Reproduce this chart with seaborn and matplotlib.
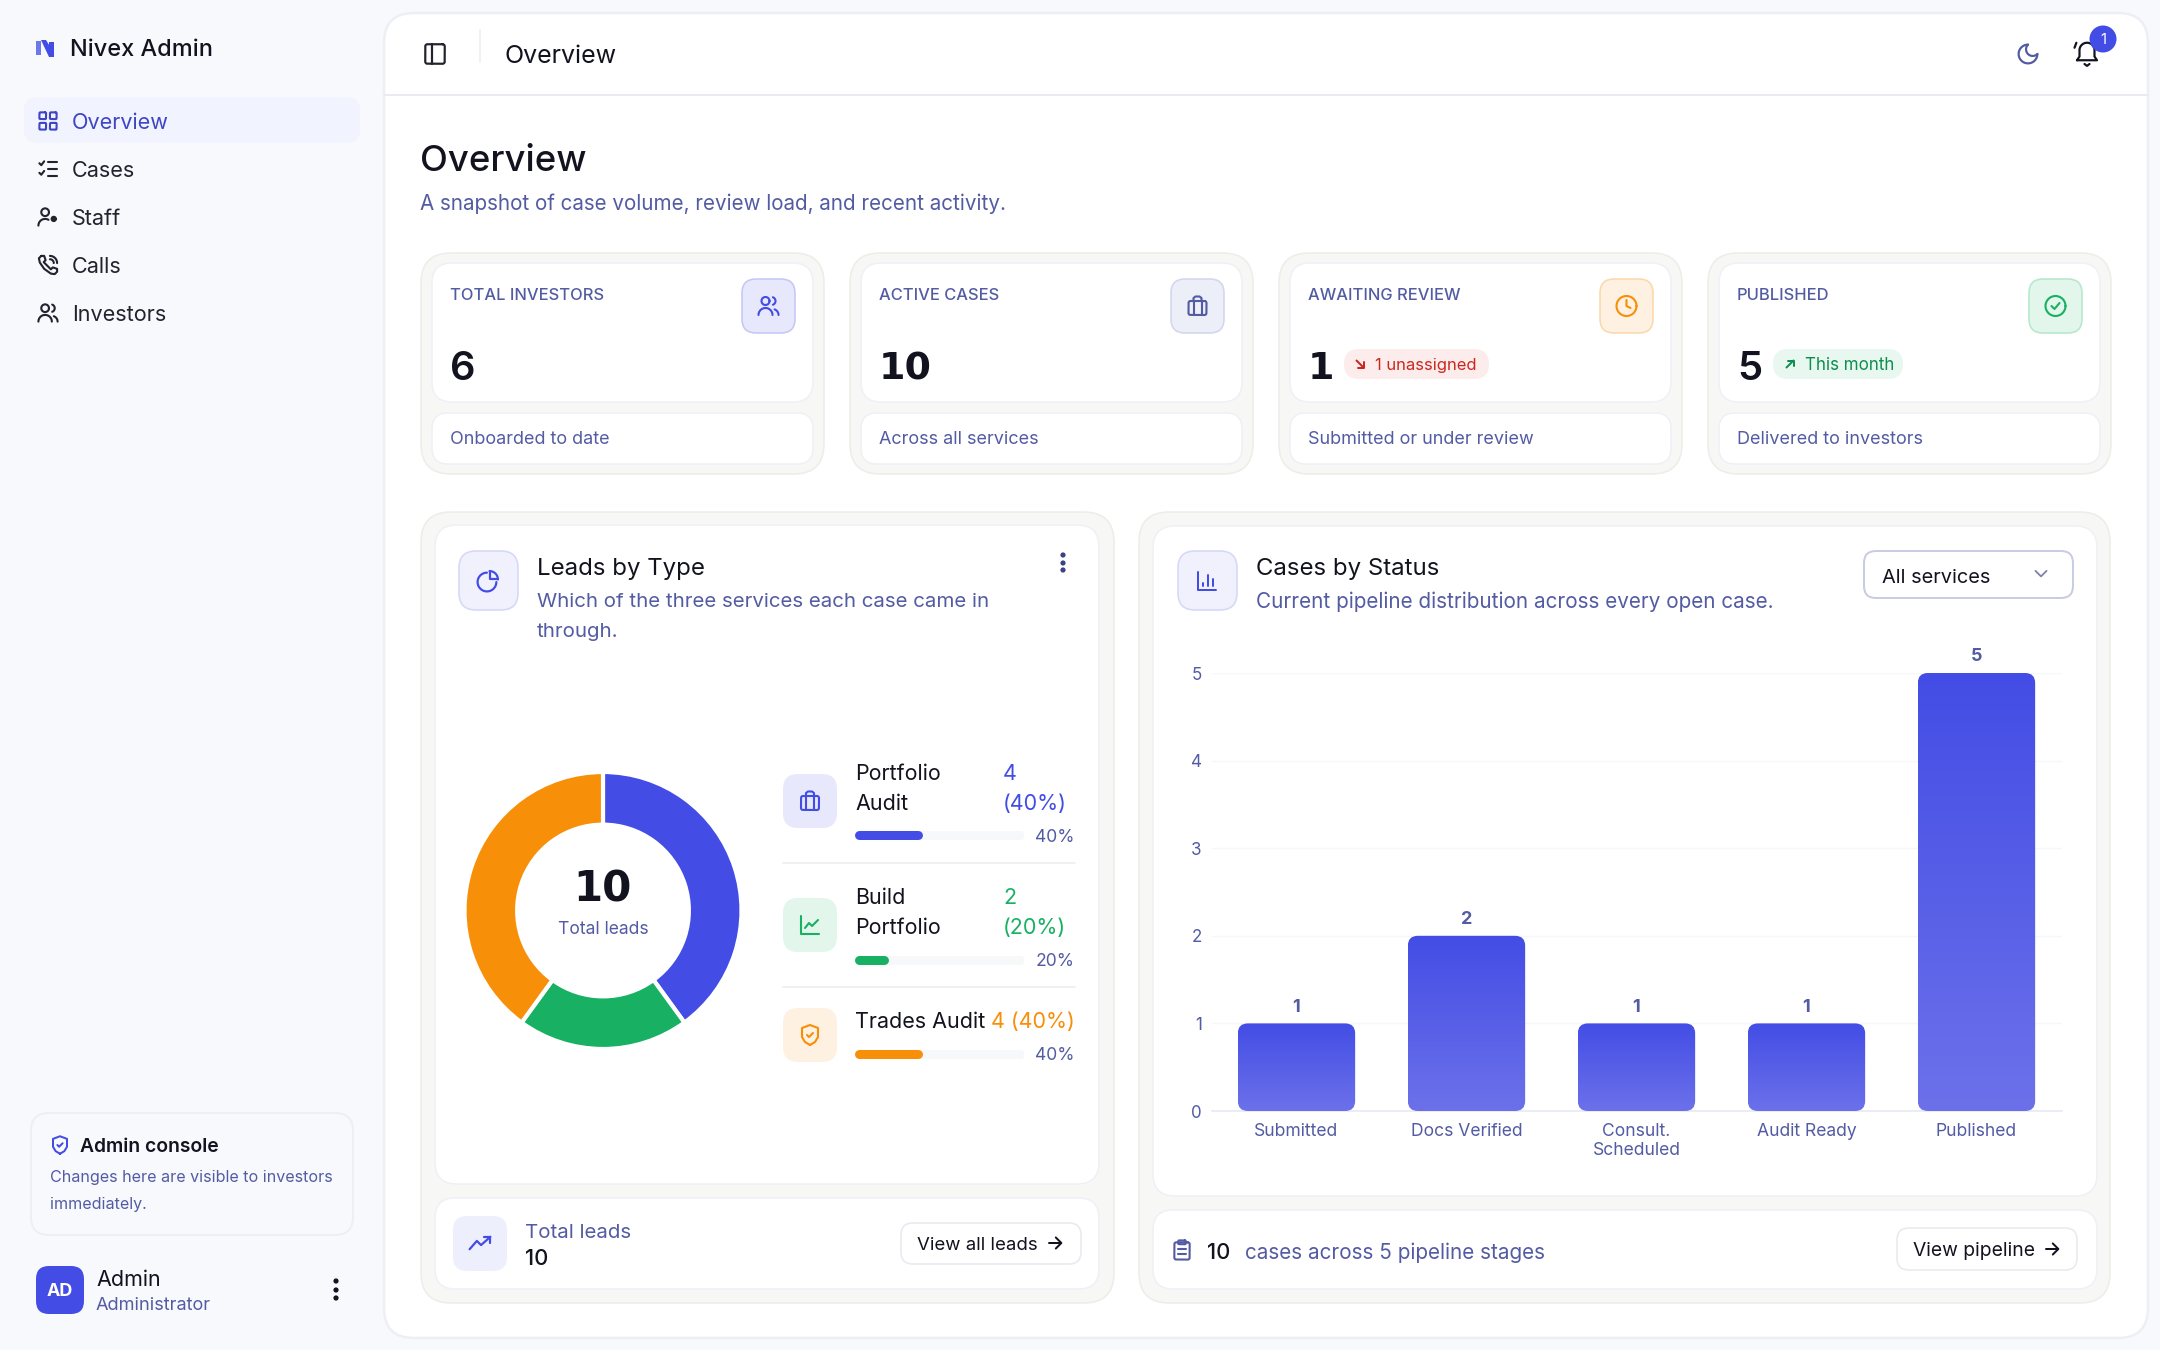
import numpy as np
import pandas as pd
import seaborn as sns
import matplotlib
matplotlib.use("Agg")
import matplotlib.pyplot as plt
from matplotlib.patches import FancyBboxPatch, Circle, Polygon

# Data
nav_items = ["Overview", "Cases", "Staff", "Calls", "Investors"]
nav_icons = ["grid", "checks", "staff", "phone", "users"]
kpi_labels = ["TOTAL INVESTORS", "ACTIVE CASES", "AWAITING REVIEW", "PUBLISHED"]
kpi_values = [6, 10, 1, 5]
kpi_notes = ["Onboarded to date", "Across all services", "Submitted or under review", "Delivered to investors"]
lead_types = ["Portfolio\nAudit", "Build\nPortfolio", "Trades Audit"]
lead_counts = [4, 2, 4]
lead_pcts = [40, 20, 40]
status_names = ["Submitted", "Docs Verified", "Consult.\nScheduled", "Audit Ready", "Published"]
status_counts = [1, 2, 1, 1, 5]

W, H = 2160, 1350
BLUE, GREEN, ORANGE = "#434DE5", "#18B163", "#F78F08"
INK, MUTED = "#12131F", "#535BA3"
FONT = "Inter"
NUMFONT = "DejaVu Sans"

sns.set_theme(style="white")
plt.rcParams["font.family"] = [FONT, "DejaVu Sans"]

fig = plt.figure(figsize=(W / 100, H / 100), dpi=100, facecolor="#F8F9FD")
cv = fig.add_axes([0, 0, 1, 1], zorder=0)
cv.set_xlim(0, W)
cv.set_ylim(H, 0)
cv.axis("off")
cv.autoscale(False)


def box(x0, y0, x1, y1, r, fc="white", ec="none", lw=1.5, z=1):
    p = FancyBboxPatch((x0, y0), x1 - x0, y1 - y0, boxstyle=f"round,pad=0,rounding_size={r}",
                       fc=fc, ec=ec, lw=lw * 0.72, zorder=z)
    cv.add_patch(p)


def txt(x, y, s, px, c=INK, w="normal", ha="left", fam=None, sp=1.0):
    cv.text(x, y, s, fontsize=px * 0.72, color=c, fontweight=w, ha=ha, va="center_baseline",
            family=fam or FONT, linespacing=sp, zorder=6)


def arc(cx, cy, r, a0=0, a1=360):
    t = np.radians(np.linspace(a0, a1, 40))
    return np.column_stack([cx + r * np.cos(t), cy - r * np.sin(t)])


def rr(x, y, w, h, r):
    return np.vstack([arc(x + w - r, y + r, r, 90, 0), arc(x + w - r, y + h - r, r, 0, -90),
                      arc(x + r, y + h - r, r, -90, -180), arc(x + r, y + r, r, 180, 90),
                      [[x + w - r, y]]])


ICONS = {
    "grid": [rr(3, 3, 7, 7, 1), rr(14, 3, 7, 7, 1), rr(3, 14, 7, 7, 1), rr(14, 14, 7, 7, 1)],
    "checks": [[(3, 6), (5, 8), (8, 4)], [(3, 16), (5, 18), (8, 14)], [(12, 5), (21, 5)], [(12, 12), (21, 12)], [(12, 19), (21, 19)]],
    "staff": [arc(9, 7, 4), arc(9, 21, 7, 180, 60), arc(18, 14, 2.2), arc(18, 14, 1)],
    "phone": [[(5, 2.5), (8, 2.5), (9.5, 7), (7.5, 9), (15, 16.5), (17, 14.5), (21.5, 16), (21.5, 19), (19, 21.5), (15, 21), (8, 16), (3.5, 9.5), (2.5, 5), (5, 2.5)],
              arc(14, 10, 7.5, 0, 90), arc(14, 10, 4, 0, 90)],
    "users": [arc(9, 7, 4), arc(9, 21, 7, 0, 180), arc(15, 7, 4, -70, 70), arc(16, 21, 6, 0, 70)],
    "case": [rr(3, 7, 18, 14, 2), [(8, 7), (8, 21)], [(16, 7), (16, 21)], [(8, 7), (8, 4), (10, 2.5), (14, 2.5), (16, 4), (16, 7)]],
    "clock": [arc(12, 12, 10), [(12, 6), (12, 12), (16, 14)]],
    "check": [arc(12, 12, 10), [(8, 12), (11, 15), (16, 9)]],
    "pie": [arc(11, 13, 9, 90, 360), arc(13.5, 10.5, 8, 0, 90), [(13.5, 2.5), (13.5, 10.5), (21.5, 10.5)]],
    "bars": [[(3, 3), (3, 21), (21, 21)], [(8, 17), (8, 14)], [(13, 17), (13, 6)], [(18, 17), (18, 10)]],
    "line": [[(3, 3), (3, 21), (21, 21)], [(7, 15), (11, 10), (14, 13), (20, 7)]],
    "shield": [[(12, 22), (7, 19), (4, 14), (4, 5), (12, 2), (20, 5), (20, 14), (17, 19), (12, 22)], [(9, 12), (11, 14), (15, 10)]],
    "trend": [[(2, 18), (9, 10), (13, 14), (22, 6)], [(16, 6), (22, 6), (22, 12)]],
    "clipboard": [rr(4, 4, 16, 18, 2), rr(8, 2, 8, 4, 1), [(8, 11), (16, 11)], [(8, 16), (16, 16)]],
    "moon": [arc(12, 12, 9, 90, 360), arc(16.5, 7.5, 6.36, 135, 315)],
    "bell": [np.vstack([[(4, 17), (6, 14)], arc(12, 9, 6, 180, 0), [(18, 14), (20, 17), (4, 17)]]), [(10, 20), (12, 21.5), (14, 20)], [(3.5, 3), (2, 7)]],
    "panel": [rr(3, 3, 18, 18, 2), [(9, 3), (9, 21)]],
    "arrow": [[(4, 12), (20, 12)], [(13, 5), (20, 12), (13, 19)]],
    "chev": [[(5, 8), (12, 15), (19, 8)]],
    "ne": [[(6, 18), (18, 6)], [(8, 6), (18, 6), (18, 16)]],
    "se": [[(6, 6), (18, 18)], [(18, 8), (18, 18), (8, 18)]],
}


def icon(name, cx, cy, size, c, lw=2.2):
    k = size / 24
    for seg in ICONS[name]:
        seg = np.asarray(seg, dtype=float)
        cv.plot(cx + (seg[:, 0] - 12) * k, cy + (seg[:, 1] - 12) * k, color=c, lw=lw * 0.72,
                solid_capstyle="round", solid_joinstyle="round", zorder=6)


def dots(x, ys, r=2.6, c=INK):
    for y in ys:
        cv.add_patch(Circle((x, y), r, fc=c, ec="none", zorder=6))


def number(x, y, v, c=INK):
    # the digit 1 has a foot in the original, Inter's doesn't
    if "1" in str(v):
        txt(x, y, str(v), 38, c=c, w="bold", fam=NUMFONT)
    else:
        txt(x, y, str(v), 40, c=c, w="semibold")


# Sidebar
cv.add_patch(Polygon([(36, 41), (41, 41), (41, 55), (36, 55)], fc="#6F78E8", ec="none", zorder=5))
cv.add_patch(Polygon([(41, 40), (46, 40), (54, 53), (54, 57), (49, 57)], fc=BLUE, ec="none", zorder=5))
cv.add_patch(Polygon([(49, 42), (54, 42), (54, 57), (49, 57)], fc=BLUE, ec="none", zorder=5))
txt(70, 48, "Nivex Admin", 23.5, w="medium")
box(24, 97, 360, 143, 13, fc="#F1F4FE")
for i, (name, ic) in enumerate(zip(nav_items, nav_icons)):
    y = 121 + i * 48
    col = "#3F46C5" if i == 0 else "#22232E"
    icon(ic, 48, y, 23, col, 2.1)
    txt(72, y, name, 21.6, c=col)

box(31, 1113, 353, 1235, 18, fc="#F8F9FD", ec="#EEEFF4", lw=2)
icon("shield", 60, 1145, 21, BLUE, 2)
txt(80, 1145, "Admin console", 19.3, w="semibold")
txt(50, 1176, "Changes here are visible to investors", 16.1, c=MUTED)
txt(50, 1203, "immediately.", 16.1, c=MUTED)
box(36, 1266, 84, 1314, 13, fc=BLUE)
txt(60, 1290, "AD", 18, c="white", w="bold", ha="center")
txt(96, 1278, "Admin", 21.5)
txt(96, 1303, "Administrator", 18.2, c=MUTED)
dots(336, [1281, 1290, 1298])

# Main panel + header
box(384, 13, 2148, 1338, 30, fc="white", ec="#EEEFF4", lw=2.5)
cv.plot([384, 2148], [95, 95], color="#E9EBF0", lw=1.4, zorder=2)
cv.plot([480, 480], [30, 62], color="#EDEFF3", lw=1.2, zorder=2)
icon("panel", 435, 54, 26, "#22232E", 2.2)
txt(505, 54, "Overview", 25)
icon("moon", 2028, 54, 25, MUTED, 2.2)
icon("bell", 2087, 54, 30, "#12131F", 2.2)
cv.add_patch(Circle((2103, 39), 13.5, fc=BLUE, ec="none", zorder=6))
txt(2103, 39, "1", 15, c="white", ha="center")
txt(420, 158, "Overview", 36.5, w="medium")
txt(420, 202, "A snapshot of case volume, review load, and recent activity.", 20.6, c=MUTED)

# KPI cards
kpi_x = [421, 850, 1279, 1708]
kpi_tint = [("#E7E8FC", "#C5C8F5", BLUE), ("#ECEEF8", "#D3D6EE", MUTED), ("#FEF1E1", "#FAD9AC", ORANGE), ("#E3F6EC", "#B5E8CC", GREEN)]
kpi_ic = ["users", "case", "clock", "check"]
for i in range(4):
    x = kpi_x[i]
    box(x, 253, x + 403, 474, 30, fc="#F7F7F5", ec="#EDEDE9", lw=1.6)
    box(x + 11, 263, x + 392, 402, 20, fc="white", ec="#EEF0F6", lw=1.5, z=2)
    box(x + 11, 413, x + 392, 464, 16, fc="white", ec="#EEF0F6", lw=1.5, z=2)
    txt(x + 29, 294, kpi_labels[i], 16.5, c=MUTED, w="medium")
    number(x + 29, 365, kpi_values[i])
    txt(x + 29, 438, kpi_notes[i], 18, c=MUTED)
    bg, ed, fg = kpi_tint[i]
    box(x + 321, 279, x + 374, 333, 14, fc=bg, ec=ed, lw=1.6, z=3)
    icon(kpi_ic[i], x + 347.5, 306, 24, fg, 2.1)

box(1344, 349, 1489, 379, 15, fc="#FDECEC", z=3)
icon("se", 1360, 364, 14, "#C9281F", 2)
txt(1375, 364, "1 unassigned", 16.6, c="#C9281F")
box(1773, 349, 1903, 379, 15, fc="#E8F7EF", z=3)
icon("ne", 1790, 364, 14, "#0E8F4F", 2)
txt(1805, 364, "This month", 17, c="#0E8F4F")

# Leads panel
box(421, 512, 1114, 1303, 30, fc="#F7F7F5", ec="#EDEDE9", lw=1.6)
box(435, 525, 1099, 1184, 22, fc="white", ec="#EEF0F6", lw=1.5, z=2)
box(435, 1198, 1099, 1289, 20, fc="white", ec="#EEF0F6", lw=1.5, z=2)
box(459, 551, 518, 610, 17, fc="#F0F1FD", ec="#D5D8F7", lw=1.6, z=3)
icon("pie", 488, 581, 25, BLUE, 2.2)
txt(537, 567, "Leads by Type", 24)
txt(537, 600, "Which of the three services each case came in", 20.5, c=MUTED)
txt(537, 630, "through.", 20.5, c=MUTED)
dots(1063, [555, 563, 570], r=2.6, c="#3B4380")

# Donut
d_ax = fig.add_axes([(603 - 138.5) / W, 1 - (910.5 + 138.5) / H, 277 / W, 277 / H], zorder=2)
d_ax.pie(lead_counts, colors=[BLUE, GREEN, ORANGE], startangle=90, counterclock=False,
         wedgeprops=dict(width=0.38, edgecolor="white", linewidth=3))
d_ax.set_xlim(-1, 1)
d_ax.set_ylim(-1, 1)
d_ax.patch.set_alpha(0)
txt(603, 885, str(sum(lead_counts)), 42, w="bold", ha="center", fam=NUMFONT)
txt(603, 928, "Total leads", 17.5, c=MUTED, ha="center")

# Legend rows
row_box = [774, 898, 1008]
row_ic = ["case", "line", "shield"]
row_bg = ["#E7E8FC", "#E3F6EC", "#FEF1E1"]
row_col = [BLUE, GREEN, ORANGE]
row_bar = [835, 960, 1054]
row_name = [782, 906, 1020]
for i in range(3):
    box(783, row_box[i], 837, row_box[i] + 54, 15, fc=row_bg[i], z=3)
    icon(row_ic[i], 810, row_box[i] + 27, 24, row_col[i], 2.1)
    name_y = row_name[i]
    txt(855, name_y, lead_types[i], 21.5, sp=1.62)
    val = f"{lead_counts[i]} ({lead_pcts[i]}%)"
    if i < 2:
        txt(1003, name_y, val.replace(" ", "\n"), 21.5, c=row_col[i], sp=1.62)
    else:
        txt(1075, name_y, val, 21.5, c=row_col[i], ha="right")
    txt(1075, row_bar[i], f"{lead_pcts[i]}%", 17.5, c=MUTED, ha="right")
    # progress bar in its own 0-100 scale
    p_ax = fig.add_axes([855 / W, 1 - (row_bar[i] + 6) / H, 169 / W, 12 / H], zorder=2)
    p_ax.plot([2.6, 97.4], [0, 0], color="#F7F8FA", lw=9 * 0.72, solid_capstyle="round")
    p_ax.plot([2.6, lead_pcts[i] - 2.6], [0, 0], color=row_col[i], lw=9 * 0.72, solid_capstyle="round")
    p_ax.set_xlim(0, 100)
    p_ax.set_ylim(-1, 1)
    p_ax.axis("off")
for y in [863, 987]:
    cv.plot([783, 1075], [y, y], color="#EBEDF2", lw=1.2, zorder=2)

# Leads footer
box(453, 1216, 507, 1271, 14, fc="#EDEFFD", z=3)
icon("trend", 480, 1243, 25, BLUE, 2.2)
txt(525, 1231, "Total leads", 20.5, c=MUTED)
txt(525, 1257, str(sum(lead_counts)), 22, w="medium")
box(901, 1223, 1081, 1264, 12, fc="white", ec="#E8EAF0", lw=1.6, z=3)
txt(917, 1243, "View all leads", 18.6)
icon("arrow", 1055, 1243, 19, INK, 2)

# Status panel
box(1139, 512, 2110, 1303, 30, fc="#F7F7F5", ec="#EDEDE9", lw=1.6)
box(1153, 526, 2097, 1196, 22, fc="white", ec="#EEF0F6", lw=1.5, z=2)
box(1153, 1210, 2097, 1289, 20, fc="white", ec="#EEF0F6", lw=1.5, z=2)
box(1178, 551, 1237, 610, 17, fc="#F0F1FD", ec="#D5D8F7", lw=1.6, z=3)
icon("bars", 1207, 581, 25, BLUE, 2)
txt(1256, 567, "Cases by Status", 24)
txt(1256, 600, "Current pipeline distribution across every open case.", 20.7, c=MUTED)
box(1864, 551, 2073, 598, 12, fc="white", ec="#C9CCE2", lw=2, z=3)
txt(1882, 576, "All services", 20)
icon("chev", 2041, 574, 19, "#7D82A8", 1.8)

# Bar chart
df = pd.DataFrame({"status": status_names, "count": status_counts})
b_ax = fig.add_axes([1211.5 / W, 1 - 1111 / H, 850 / W, 438 / H], zorder=3)
sns.barplot(data=df, x="status", y="count", width=0.69, ax=b_ax)
b_ax.patch.set_alpha(0)
b_ax.set_xlim(-0.5, 4.5)
b_ax.set_ylim(0, 5)
b_ax.set_yticks(range(6))
b_ax.set_xlabel("")
b_ax.set_ylabel("")
b_ax.grid(axis="y", color="#F6F7FA", lw=1)
b_ax.set_axisbelow(True)
sns.despine(ax=b_ax, left=True)
b_ax.spines["bottom"].set_color("#E8EAF2")
b_ax.spines["bottom"].set_linewidth(1.2)
b_ax.tick_params(axis="both", length=0)
b_ax.tick_params(axis="y", pad=7, labelsize=17 * 0.72, labelcolor=MUTED)
b_ax.tick_params(axis="x", pad=9, labelsize=17.5 * 0.72, labelcolor=MUTED)
for t in b_ax.get_xticklabels():
    t.set_linespacing(1.08)

grad = np.linspace(0, 1, 256).reshape(-1, 1)
cmap = matplotlib.colors.LinearSegmentedColormap.from_list("bar", [BLUE, "#6C71EA"])
px_x, px_y = 850 / 5, 438 / 5
for bar, count in zip(list(b_ax.patches), status_counts):
    x0, w, h = bar.get_x(), bar.get_width(), bar.get_height()
    bar.set_visible(False)
    # rounded shape keeps the bar's own data coords, gradient is clipped to it
    shape = FancyBboxPatch((x0, 0), w, h, boxstyle=f"round,pad=0,rounding_size={10 / px_x}",
                           mutation_aspect=px_x / px_y, fc="none", ec="none", zorder=3)
    b_ax.add_patch(shape)
    im = b_ax.imshow(grad, extent=(x0, x0 + w, 0, h), cmap=cmap, aspect="auto", zorder=3)
    im.set_clip_path(shape)
    b_ax.text(x0 + w / 2, h + 0.09, str(count), ha="center", va="bottom", fontsize=18 * 0.72,
              fontweight="bold", color=MUTED, clip_on=False)
b_ax.set_xlim(-0.5, 4.5)
b_ax.set_ylim(0, 5)

# Status footer
icon("clipboard", 1182, 1250, 23, MUTED, 2.1)
txt(1207, 1251, str(sum(status_counts)), 22, w="medium")
txt(1245, 1251, f"cases across {len(status_counts)} pipeline stages", 20.7, c=MUTED)
box(1897, 1228, 2077, 1270, 12, fc="white", ec="#E8EAF0", lw=1.6, z=3)
txt(1913, 1249, "View pipeline", 19.3)
icon("arrow", 2052, 1249, 19, INK, 2)

fig.savefig("out.png", dpi=100, facecolor=fig.get_facecolor())
